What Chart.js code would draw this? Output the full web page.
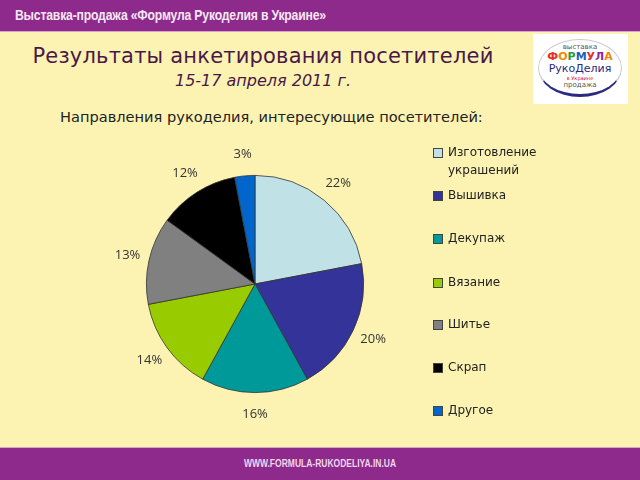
<!DOCTYPE html>
<html>
<head>
<meta charset="utf-8">
<script src="https://cdn.jsdelivr.net/npm/chart.js@4/dist/chart.umd.min.js"></script>
<style>
  html, body { margin: 0; padding: 0; }
  body { width: 640px; height: 480px; position: relative; overflow: hidden; background: #fcf3b3; font-family: "DejaVu Sans", sans-serif; }
  .topbar { position: absolute; left: 0; top: 0; width: 640px; height: 31px; background: #8d2a8b; border-bottom: 1px solid #d9a6c9; }
  .topbar span { position: absolute; left: 15px; top: 7px; color: #f6e8f4; font: bold 14px "Liberation Sans", sans-serif; letter-spacing: -0.2px; transform: scaleX(0.87); transform-origin: left center; white-space: nowrap; }
  .bottombar { position: absolute; left: 0; top: 447px; width: 640px; height: 33px; background: #8d2a8b; border-top: 1px solid #d9a6c9; }
  .bottombar span { position: absolute; left: 0; width: 640px; top: 10px; text-align: center; color: #f0d6ee; font: bold 10px "Liberation Sans", sans-serif; transform: scaleX(0.85); transform-origin: center; }
  .title { position: absolute; left: 0; width: 526px; top: 44px; text-align: center; color: #4a1848; font-size: 21px; letter-spacing: 0.2px; }
  .subtitle { position: absolute; left: 0; width: 526px; top: 71px; text-align: center; color: #4a1848; font-size: 16px; font-style: italic; }
  .heading { position: absolute; left: 60px; top: 108px; color: #222; font-size: 14.6px; }
  .logo { position: absolute; left: 533px; top: 34px; width: 95px; height: 70px; background: #fff; }
  .logo .ell { position: absolute; left: 5px; top: 5px; width: 84px; height: 58px; border-radius: 50%; border: 1px solid #ccc; border-bottom: 3px solid #2a2a80; box-sizing: border-box; text-align: center; font-family: "DejaVu Sans", sans-serif; }
  .logo .a { font-size: 7px; color: #555; margin-top: 3px; }
  .logo .b { font-size: 11px; font-weight: bold; line-height: 12px; }
  .logo .c { font-size: 11px; color: #2a2a80; line-height: 12px; }
  .logo .d { font-size: 5px; color: #c03; }
  .logo .e { font-size: 7px; color: #555; }
  canvas { position: absolute; left: 0; top: 0; }
</style>
</head>
<body>
<div class="topbar"><span>Выставка-продажа «Формула Рукоделия в Украине»</span></div>
<div class="title">Результаты анкетирования посетителей</div>
<div class="subtitle">15-17 апреля 2011 г.</div>
<div class="heading">Направления рукоделия, интересующие посетителей:</div>
<div class="logo"><div class="ell">
  <div class="a">выставка</div>
  <div class="b"><span style="color:#e8302a">Ф</span><span style="color:#f08a00">О</span><span style="color:#2a9d3a">Р</span><span style="color:#1e5fc0">М</span><span style="color:#e8302a">У</span><span style="color:#8a2a9a">Л</span><span style="color:#f08a00">А</span></div>
  <div class="c">РукоДелия</div>
  <div class="d">в Украине</div>
  <div class="e">продажа</div>
</div></div>
<div class="bottombar"><span>WWW.FORMULA-RUKODELIYA.IN.UA</span></div>
<canvas id="chart" width="640" height="480"></canvas>
<script>
// categories and shares (%)
const categories = ["Изготовление украшений", "Вышивка", "Декупаж", "Вязание", "Шитье", "Скрап", "Другое"];
const legendLines = [["Изготовление", "украшений"], ["Вышивка"], ["Декупаж"], ["Вязание"], ["Шитье"], ["Скрап"], ["Другое"]];
const shares = [22, 20, 16, 14, 13, 12, 3];
const colors = ["#c0e2e6", "#333399", "#009999", "#99cc00", "#808080", "#000000", "#0066cc"];

// percentage labels outside the slices
const outsideLabels = {
    id: "outsideLabels",
    afterDatasetsDraw(chart) {
        const ctx = chart.ctx;
        const meta = chart.getDatasetMeta(0);
        ctx.save();
        ctx.font = "13px 'Open Sans', sans-serif";
        ctx.fillStyle = "#333";
        ctx.textAlign = "center";
        ctx.textBaseline = "middle";
        meta.data.forEach((arc, i) => {
            const mid = (arc.startAngle + arc.endAngle) / 2;
            const r = arc.outerRadius + 22;
            ctx.fillText(shares[i] + "%", arc.x + Math.cos(mid) * r, arc.y + Math.sin(mid) * r);
        });
        ctx.restore();
    }
};

// legend on the right
const sideLegend = {
    id: "sideLegend",
    afterDraw(chart) {
        const ctx = chart.ctx;
        const tops = [153, 196, 239, 283, 325, 368, 411];
        ctx.save();
        ctx.font = "12px 'DejaVu Sans', sans-serif";
        ctx.textBaseline = "middle";
        legendLines.forEach((lines, i) => {
            ctx.fillStyle = colors[i];
            ctx.fillRect(433, tops[i] - 5, 10, 10);
            ctx.strokeStyle = "#444";
            ctx.lineWidth = 1;
            ctx.strokeRect(433.5, tops[i] - 4.5, 9, 9);
            ctx.fillStyle = "#222";
            lines.forEach((t, j) => ctx.fillText(t, 448, tops[i] + j * 18));
        });
        ctx.restore();
    }
};

new Chart(document.getElementById("chart"), {
    type: "pie",
    data: {
        labels: categories,
        datasets: [{
            data: shares,
            backgroundColor: colors,
            borderColor: "#333",
            borderWidth: 0.8
        }]
    },
    options: {
        responsive: false,
        animation: false,
        layout: { padding: { left: 146, right: 276, top: 175, bottom: 87 } },
        plugins: { legend: { display: false }, tooltip: { enabled: false } }
    },
    plugins: [outsideLabels, sideLegend]
});
</script>
</body>
</html>
